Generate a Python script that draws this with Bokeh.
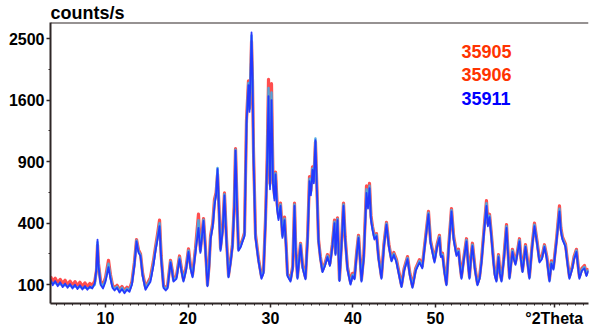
import numpy as np
from bokeh.plotting import figure
from bokeh.models import FixedTicker, Label, Span, Range1d
from bokeh.embed import file_html
from bokeh.resources import INLINE

# ---- data (degrees 2-theta, counts/s) ----
two_theta = [
    3.33, 3.6, 3.9, 4.2, 4.5, 4.8, 5.1, 5.4, 5.7, 6.0, 6.3, 6.6, 6.9, 7.2, 7.5, 7.8, 8.1, 8.4, 8.7,
    8.9, 9.03, 9.15, 9.4, 9.7, 10.0, 10.36, 10.6, 10.85, 11.1, 11.4, 11.7, 12.0, 12.3, 12.6, 12.9,
    13.2, 13.5, 13.76, 14.0, 14.24, 14.5, 14.85, 15.1, 15.45, 15.8, 16.06, 16.3, 16.55, 16.75, 17.03, 17.3, 17.52,
    17.88, 18.1, 18.24, 18.6, 18.97, 19.2, 19.45, 19.75, 20.06, 20.3, 20.55, 20.9, 21.27, 21.5, 21.88, 22.1, 22.36,
    22.55, 22.73, 23.0, 23.21, 23.4, 23.58, 23.75, 23.94, 24.2, 24.42, 24.65, 24.91, 25.15, 25.39, 25.6, 25.76, 25.95, 26.12, 26.4, 26.61, 26.85,
    27.09, 27.33, 27.45, 27.58, 27.70, 27.82, 27.94, 28.18, 28.55, 28.91, 29.15, 29.39, 29.6,
    29.76, 29.94, 30.12, 30.3, 30.48, 30.61, 30.8, 30.97, 31.21, 31.45, 31.70, 31.9, 32.06, 32.42, 32.7, 32.91, 33.05, 33.27, 33.64, 33.9,
    34.24, 34.5, 34.73, 34.9, 35.09, 35.25, 35.45, 35.6, 35.82, 36.05, 36.30, 36.6, 36.91, 37.2, 37.5, 37.76, 37.88, 38.12, 38.36, 38.6, 38.85, 39.05,
    39.33, 39.70, 39.95, 40.18, 40.45, 40.67, 40.85, 41.03, 41.3, 41.64, 41.82, 42.0, 42.18, 42.36, 42.6, 42.85, 43.1, 43.45, 43.75, 44.06, 44.35, 44.67, 44.95,
    45.27, 45.6, 45.88, 46.2, 46.61, 46.9, 47.21, 47.6, 48.06, 48.4, 48.8, 49.15, 49.4, 49.88, 50.2, 50.48, 50.65, 50.85, 51.1, 51.33,
    51.6, 51.94, 52.2, 52.55, 52.79, 53.0, 53.15, 53.45, 53.76, 53.95, 54.12, 54.3, 54.48, 54.8, 55.09, 55.35, 55.58, 55.9, 56.18, 56.35, 56.55, 56.8, 57.03, 57.2, 57.39, 57.64, 57.8,
    58.0, 58.3, 58.61, 58.8, 58.97, 59.33, 59.5, 59.70, 59.95, 60.18, 60.35, 60.55, 60.91, 61.1, 61.39, 61.7, 62.0, 62.3, 62.61, 62.9, 63.21, 63.5,
    63.82, 64.05, 64.30, 64.7, 65.03, 65.2, 65.39, 65.76, 66.0, 66.24, 66.6, 66.8, 67.09, 67.3, 67.45, 67.75, 68.06, 68.3, 68.55,
]

counts_35905 = [
    128, 112, 122, 106, 118, 104, 115, 100, 112, 98, 110, 96, 108, 95, 106, 94, 104, 98, 112,
    150, 270, 180, 112, 100, 125, 195, 135, 98, 90, 98, 84, 94, 82, 92, 86,
    110, 185, 300, 245, 225, 140, 92, 105, 125, 190, 260, 330, 420, 215, 98, 90, 96,
    195, 150, 118, 130, 215, 160, 118, 162, 250, 172, 135, 250, 460, 245, 430, 265, 100,
    170, 320, 400, 570, 620, 780, 520, 255, 370, 620, 320, 132, 190, 275, 520, 1030, 520, 250, 275, 300, 340,
    1350, 1860, 1500, 1850, 2450, 1850, 1000, 330, 200, 128, 150, 420, 950,
    1880, 700, 1820, 760, 600, 800, 540, 450, 540, 330, 440, 265, 138, 118, 170, 540, 265, 128, 280, 170,
    125, 320, 760, 640, 850, 730, 1100, 720, 300, 210, 152, 180, 222, 180, 275, 420, 232, 435, 118, 275, 540, 315,
    165, 108, 140, 125, 235, 325, 212, 118, 215, 680, 540, 700, 450, 380, 320, 335, 212, 128, 275, 405, 275, 200, 232,
    198, 140, 98, 160, 212, 140, 96, 160, 198, 170, 315, 480, 295, 198, 275, 325, 222, 228, 150, 104,
    265, 500, 320, 228, 248, 170, 128, 212, 305, 190, 128, 212, 280, 160, 104, 128, 198, 370, 560, 400, 460, 318, 198, 140, 118, 222, 150,
    118, 212, 390, 232, 128, 248, 212, 185, 242, 305, 212, 152, 272, 212, 128, 262, 400, 295, 196, 212, 272, 212,
    118, 192, 165, 315, 520, 370, 315, 275, 192, 128, 170, 212, 248, 170, 128, 160, 172, 138, 160,
]

counts_35906 = [
    112, 104, 106, 100, 102, 97, 99, 95, 97, 93, 95, 91, 93, 90, 91, 89, 90, 92, 100,
    155, 285, 175, 105, 94, 118, 180, 128, 94, 86, 94, 80, 90, 78, 88, 82,
    105, 178, 295, 238, 220, 135, 88, 100, 118, 180, 250, 315, 400, 208, 94, 86, 92,
    190, 145, 114, 125, 208, 155, 114, 156, 242, 166, 130, 240, 420, 238, 422, 258, 98,
    165, 310, 390, 545, 610, 840, 510, 248, 360, 610, 310, 128, 185, 268, 510, 1020, 510, 245, 268, 295, 330,
    1320, 1830, 1480, 1950, 2550, 1880, 980, 320, 195, 124, 145, 410, 920,
    1760, 680, 1700, 730, 580, 790, 520, 435, 530, 320, 430, 258, 134, 114, 165, 530, 258, 124, 275, 165,
    122, 310, 740, 620, 835, 715, 1140, 710, 295, 205, 148, 175, 216, 175, 268, 410, 226, 428, 115, 268, 530, 308,
    160, 104, 135, 122, 228, 318, 206, 114, 208, 650, 520, 680, 435, 370, 310, 328, 206, 124, 268, 398, 268, 195, 226,
    192, 135, 95, 155, 206, 135, 93, 155, 192, 165, 308, 470, 288, 192, 268, 318, 216, 222, 145, 101,
    258, 490, 310, 222, 242, 165, 124, 206, 298, 185, 124, 206, 272, 155, 101, 124, 192, 360, 540, 390, 450, 310, 192, 135, 114, 216, 145,
    114, 206, 380, 226, 124, 242, 206, 180, 236, 298, 206, 148, 266, 206, 124, 256, 390, 288, 190, 206, 266, 206,
    114, 186, 160, 308, 500, 360, 308, 268, 186, 124, 165, 206, 242, 165, 124, 155, 166, 134, 155,
]

counts_35911 = [
    118, 98, 112, 95, 108, 92, 104, 90, 102, 88, 100, 86, 98, 85, 96, 84, 94, 88, 105,
    160, 300, 170, 100, 88, 110, 165, 120, 90, 82, 90, 76, 86, 74, 84, 78,
    100, 170, 290, 230, 215, 130, 84, 95, 110, 170, 240, 300, 380, 200, 90, 82, 88,
    185, 140, 110, 120, 200, 150, 110, 150, 235, 160, 125, 230, 370, 230, 415, 250, 95,
    160, 300, 380, 520, 600, 830, 500, 240, 350, 600, 300, 125, 180, 260, 500, 1010, 500, 240, 260, 290, 320,
    1300, 1800, 1450, 1900, 2600, 1900, 950, 310, 190, 120, 140, 400, 900,
    1650, 650, 1600, 700, 560, 780, 500, 420, 520, 310, 420, 250, 130, 110, 160, 520, 250, 120, 270, 160,
    118, 300, 720, 600, 820, 700, 1120, 700, 290, 200, 145, 170, 210, 170, 260, 400, 220, 420, 112, 260, 520, 300,
    155, 100, 130, 118, 220, 310, 200, 110, 200, 620, 500, 660, 420, 360, 300, 320, 200, 120, 260, 390, 260, 190, 220,
    185, 130, 92, 150, 200, 130, 90, 150, 185, 160, 300, 460, 280, 185, 260, 310, 210, 215, 140, 98,
    250, 480, 300, 215, 235, 160, 120, 200, 290, 180, 120, 200, 265, 150, 98, 120, 185, 350, 520, 380, 440, 300, 185, 130, 110, 210, 140,
    110, 200, 370, 220, 120, 235, 200, 175, 230, 290, 200, 145, 260, 200, 120, 250, 380, 280, 185, 200, 260, 200,
    110, 180, 155, 300, 480, 350, 300, 260, 180, 120, 160, 200, 235, 160, 120, 150, 160, 130, 150,
]

series_names = ["35905", "35906", "35911"]
series_line_colors = ["#FF4545", "#4AA8E0", "#2233FF"]
series_text_colors = ["#FF3300", "#FF3300", "#0000FF"]
series_line_widths = [3.2, 2.4, 1.8]

y_tick_counts = [100, 400, 900, 1600, 2500]
y_minor_counts = [225, 625, 1225, 2025]
x_tick_deg = [10, 20, 30, 40, 50]
x_minor_deg = list(range(4, 69))

x_title = "°2Theta"
x_title_pos = 64.4
y_title = "counts/s"

FONT = "Liberation Sans"

# sqrt-scaled counts axis (data plotted as sqrt(counts), ticks labelled in counts)
p = figure(width=600, height=333, output_backend="svg", toolbar_location=None,
           x_range=Range1d(3.33, 68.55), y_range=Range1d(6.94, 52.6),
           min_border_left=50, min_border_right=12, min_border_top=0, min_border_bottom=30)
p.outline_line_color = None
p.grid.visible = False
p.background_fill_color = "white"
p.border_fill_color = "white"

# y-axis unit as the plot title, top-left
p.title.text = y_title
p.title.align = "left"
p.title.text_font = FONT
p.title.text_font_style = "bold"
p.title.text_font_size = "18px"
p.title.text_color = "black"
p.title.standoff = 0
p.title.offset = 0

all_series = [counts_35905, counts_35906, counts_35911]
for ys, col, w in zip(all_series, series_line_colors, series_line_widths):
    p.line(two_theta, np.sqrt(np.array(ys, dtype=float)), line_color=col, line_width=w,
           line_alpha=0.95, line_join="round")

axis_col = "#2e2626"
p.yaxis.ticker = FixedTicker(ticks=[int(round(np.sqrt(c))) for c in y_tick_counts],
                             minor_ticks=[float(np.sqrt(c)) for c in y_minor_counts])
p.yaxis.major_label_overrides = {int(round(np.sqrt(c))): str(c) for c in y_tick_counts}
# x-axis: the unit text sits in the tick-label row at the right end
p.xaxis.ticker = FixedTicker(ticks=x_tick_deg + [x_title_pos], minor_ticks=x_minor_deg)
p.xaxis.major_label_overrides = {x_title_pos: x_title}

for ax in (p.xaxis[0], p.yaxis[0]):
    ax.axis_line_color = axis_col
    ax.axis_line_width = 2
    ax.major_tick_line_color = axis_col
    ax.minor_tick_line_color = axis_col
    ax.major_tick_line_width = 1.5
    ax.major_tick_out = 4
    ax.major_tick_in = 0
    ax.minor_tick_out = 2
    ax.minor_tick_in = 0
    ax.major_label_text_font = FONT
    ax.major_label_text_font_style = "bold"
    ax.major_label_text_font_size = "16px"
    ax.major_label_text_color = "black"
    ax.major_label_standoff = 2

# top frame line
p.add_layout(Span(location=p.y_range.end, dimension="width", line_color=axis_col, line_width=2))

# coloured sample names
legend_y = [47.9, 44.2, 40.3]
for name, col, ly in zip(series_names, series_text_colors, legend_y):
    p.add_layout(Label(x=53.15, y=ly, text=name, text_font=FONT, text_font_style="bold",
                       text_font_size="18px", text_color=col, text_baseline="alphabetic",
                       text_align="left"))

open("out.html", "w").write(file_html(p, INLINE))
